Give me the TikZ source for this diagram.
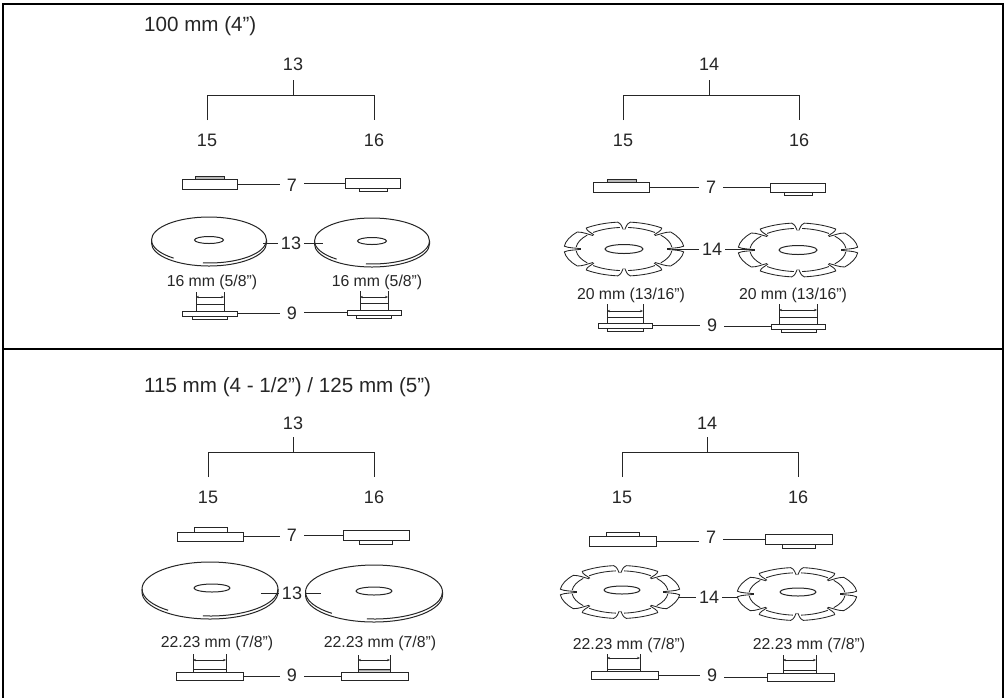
\documentclass[tikz,border=0pt]{standalone}
\usepackage{fontspec}
\setmainfont{Liberation Sans}
\usetikzlibrary{arrows.meta}
\definecolor{ink}{HTML}{262626}
\definecolor{shade}{HTML}{B8B8B8}
\tikzset{
  line/.style={draw=ink,line width=1pt},
  thinline/.style={draw=ink,line width=0.85pt},
  lead/.style={draw=ink,line width=1pt},
  frameline/.style={draw=black,line width=2pt},
  lab/.style={text=ink,font=\fontsize{18}{20}\selectfont,inner sep=3pt},
  labwide/.style={lab,inner sep=7pt},
  title/.style={text=ink,font=\fontsize{20.6}{24}\selectfont,inner sep=0pt,anchor=west},
  small/.style={text=ink,font=\fontsize{15.8}{18}\selectfont,inner sep=0pt},
  dim/.style={draw=ink,line width=0.6pt,{Stealth[length=3pt,width=2.4pt]}-{Stealth[length=3pt,width=2.4pt]}},
  plate/.style={draw=ink,line width=1pt,inner sep=0pt,outer sep=0pt},
}
\newcommand{\rectnode}[6]{%
  \pgfmathsetmacro{\rw}{#4-#2}\pgfmathsetmacro{\rh}{#5-#3}%
  \pgfmathsetmacro{\rx}{(#4+#2)/2}\pgfmathsetmacro{\ry}{(#5+#3)/2}%
  \node[plate,fill=#6,minimum width=\rw pt,minimum height=\rh pt] (#1) at (\rx,\ry) {};}
\newcommand{\discshape}[8]{%
  \begin{scope}[shift={(#1,#2)},x=1pt,y=1pt]
    \draw[line] (-#3,0) arc[start angle=180,end angle=0,x radius=#3,y radius=#4];
    \draw[line] (-#3,0) -- (-#3,-3) arc[start angle=180,end angle=360,x radius=#3,y radius=#4] -- (#3,0);
    \draw[line] (-#3,0) arc[start angle=180,end angle=232,x radius=#3,y radius=#4];
    \draw[line] (264:#3 and #4) arc[start angle=264,end angle=360,x radius=#3,y radius=#4];
  \end{scope}
  \draw[line] (#5,#6) ellipse[x radius=#7,y radius=#8];}
\newcommand{\bladeshape}[8]{%
  \begin{scope}[shift={(#1,#2)},x=#3pt,y=#4pt,line join=round]
    \foreach \a in {0,45,...,315}{%
      \draw[thinline] (\a+1:0.72) .. controls (\a+3:0.82) and (\a+2:0.92) .. (\a+6:1)
        arc[start angle=\a+6,end angle=\a+39,radius=1]
        .. controls (\a+43:0.92) and (\a+42:0.82) .. (\a+44:0.72);
      \draw[thinline] (\a+5:0.8) arc[start angle=\a+5,end angle=\a+40,radius=0.8];
    }
  \end{scope}
  \draw[line] (#5,#6) ellipse[x radius=#7,y radius=#8];}
% x1 x2 ytop yarrow ybar ybottom fill
\newcommand{\dimset}[7]{%
  \fill[#7] (#1,#5) rectangle (#2,#6);
  \draw[line] (#1,#3) -- (#1,#6);
  \draw[line] (#2,#3) -- (#2,#6);
  \draw[line] (#1,#5) -- (#2,#5);
  \draw[dim] (#1,#4) -- (#2,#4);}
% name text x y x1 x2 ybar ydown
\newcommand{\bracketset}[8]{%
  \node[lab] (#1) at (#3,#4) {#2};
  \node[lab] (#1a) at (#5,#8+20) {15};
  \node[lab] (#1b) at (#6,#8+20) {16};
  \coordinate (#1l) at (#5,#8);
  \coordinate (#1r) at (#6,#8);
  \coordinate (#1s) at (#3,#7);
  \coordinate (#1t) at (#3,#7-15);
  \draw[line] (#1l) -- (#5,#7) -- (#6,#7) -- (#1r);
  \draw[line] (#1t) -- (#1s);}
\newcommand{\leadfrom}[2]{\draw[lead] (#1.east) -- (#1.east -| #2.west);}
\newcommand{\leadto}[2]{\draw[lead] (#2.west) -- (#2.west -| #1.east);}
\begin{document}
\begin{tikzpicture}[x=1pt,y=-1pt]
\useasboundingbox (0,0) rectangle (1008,697);
\fill[white] (0,0) rectangle (1008,697);
% frame
\coordinate (tl) at (3,4); \coordinate (tr) at (1003,4);
\coordinate (bl) at (3,697); \coordinate (br) at (1003,697);
\coordinate (ml) at (3,349); \coordinate (mr) at (1003,349);
\draw[frameline,line cap=rect] (bl) -- (tl) -- (tr) -- (br);
\draw[frameline] (ml) -- (mr);
% titles
\node[title] (t1) at (144,26) {100 mm (4”)};
\node[title] (t2) at (144,387) {115 mm (4 - 1/2”) / 125 mm (5”)};

% brackets
\bracketset{ba}{13}{293}{64}{207}{374}{95}{120}
\bracketset{bb}{14}{709}{64}{623}{799}{95}{120}
\bracketset{bc}{13}{293}{423}{208}{374}{452}{477}
\bracketset{bd}{14}{707}{423}{622}{798}{452}{477}

% ===== panel 1 left =====
\node[labwide] (a7) at (292,185) {7};
\rectnode{a7t}{195}{176}{224}{179}{shade}
\rectnode{a7l}{182}{179}{237}{189}{white}
\rectnode{a7b}{359}{188}{387}{191}{white}
\rectnode{a7r}{345}{178}{400}{188}{white}
\leadfrom{a7l}{a7}
\leadto{a7}{a7r}
\discshape{209}{240}{57.5}{23}{209}{240}{14.5}{3.5}
\discshape{372}{241}{57.5}{23}{372}{241}{14.5}{3.5}
\node[lab] (a13) at (291,243) {13};
\coordinate (a13l) at (263,243); \coordinate (a13r) at (323,243);
\draw[lead] (a13l) -- (a13.west); \draw[lead] (a13.east) -- (a13r);
\node[small] (as1) at (212,282) {16 mm (5/8”)};
\node[small] (as2) at (377,282) {16 mm (5/8”)};
\dimset{196}{224}{292}{297}{304}{311}{white}
\dimset{360}{388}{291}{297}{303}{310}{white}
\node[labwide] (a9) at (292,313) {9};
\rectnode{a9lb}{192}{316}{227}{319}{white}
\rectnode{a9l}{182}{311}{237}{316}{white}
\rectnode{a9rb}{356}{315}{391}{318}{white}
\rectnode{a9r}{347}{310}{401}{315}{white}
\leadfrom{a9l}{a9}
\leadto{a9}{a9r}

% ===== panel 1 right =====
\node[labwide] (b7) at (711,187) {7};
\rectnode{b7t}{607}{179}{636}{182}{shade}
\rectnode{b7l}{593}{182}{649}{192}{white}
\rectnode{b7b}{784}{192}{812}{195}{white}
\rectnode{b7r}{770}{183}{825}{192}{white}
\leadfrom{b7l}{b7}
\leadto{b7}{b7r}
\bladeshape{624}{249}{60}{27}{624}{249}{19}{4.5}
\bladeshape{798}{250}{60}{27}{798}{250}{19}{4.5}
\node[lab] (b14) at (712,249) {14};
\coordinate (b14l) at (672,249); \coordinate (b14r) at (754,249);
\draw[lead] (b14l) -- (b14.west); \draw[lead] (b14.east) -- (b14r);
\node[small] (bs1) at (631,295) {20 mm (13/16”)};
\node[small] (bs2) at (793,295) {20 mm (13/16”)};
\dimset{607}{643}{304}{311}{317}{323}{white}
\dimset{779}{817}{304}{310}{317}{324}{white}
\node[labwide] (b9) at (712,325) {9};
\rectnode{b9lb}{607}{328}{643}{331}{white}
\rectnode{b9l}{598}{323}{652}{328}{white}
\rectnode{b9rb}{781}{329}{816}{332}{white}
\rectnode{b9r}{771}{324}{825}{329}{white}
\leadfrom{b9l}{b9}
\leadto{b9}{b9r}

% ===== panel 2 left =====
\node[labwide] (c7) at (292,535) {7};
\rectnode{c7t}{194}{527}{227}{532}{white}
\rectnode{c7l}{177}{532}{243}{541}{white}
\rectnode{c7b}{359}{540}{392}{544}{white}
\rectnode{c7r}{343}{530}{409}{540}{white}
\leadfrom{c7l}{c7}
\leadto{c7}{c7r}
\discshape{210}{589}{68}{27}{212}{588}{18}{4}
\discshape{374}{592}{68.5}{27}{374}{591}{18}{4}
\node[lab] (c13) at (292,593) {13};
\coordinate (c13l) at (261,593); \coordinate (c13r) at (321,593);
\draw[lead] (c13l) -- (c13.west); \draw[lead] (c13.east) -- (c13r);
\node[small] (cs1) at (217,643) {22.23 mm (7/8”)};
\node[small] (cs2) at (380,643) {22.23 mm (7/8”)};
\dimset{193}{226}{654}{660}{669}{672}{white}
\dimset{358}{390}{655}{660}{669}{672}{shade}
\node[labwide] (c9) at (292,675) {9};
\rectnode{c9l}{176}{672}{243}{680}{white}
\rectnode{c9r}{341}{672}{408}{680}{white}
\leadfrom{c9l}{c9}
\leadto{c9}{c9r}

% ===== panel 2 right =====
\node[labwide] (d7) at (711,537) {7};
\rectnode{d7t}{606}{532}{639}{536}{white}
\rectnode{d7l}{589}{536}{656}{546}{white}
\rectnode{d7b}{782}{544}{815}{548}{white}
\rectnode{d7r}{765}{534}{832}{544}{white}
\leadfrom{d7l}{d7}
\leadto{d7}{d7r}
\bladeshape{620}{592}{60}{26.5}{622}{590}{18}{4}
\bladeshape{797}{594}{60}{26.5}{798}{592}{18}{4}
\node[lab] (d14) at (709,597) {14};
\coordinate (d14l) at (678,597); \coordinate (d14r) at (738,597);
\draw[lead] (d14l) -- (d14.west); \draw[lead] (d14.east) -- (d14r);
\node[small] (ds1) at (629,645) {22.23 mm (7/8”)};
\node[small] (ds2) at (809,645) {22.23 mm (7/8”)};
\dimset{607}{640}{654}{658}{669}{671}{white}
\dimset{783}{816}{655}{660}{670}{673}{white}
\node[labwide] (d9) at (712,675) {9};
\rectnode{d9l}{591}{671}{658}{679}{white}
\rectnode{d9r}{767}{673}{834}{681}{white}
\leadfrom{d9l}{d9}
\leadto{d9}{d9r}
\end{tikzpicture}
\end{document}
